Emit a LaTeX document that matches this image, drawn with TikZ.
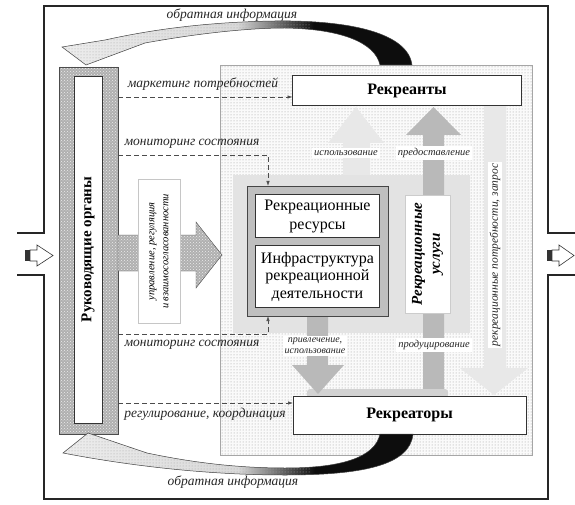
\documentclass[tikz,border=0pt]{standalone}
\usepackage{fontspec}
\setmainfont{Liberation Serif}
\usetikzlibrary{patterns,arrows.meta}

% fade used by the two curved feedback arrows: light on the left, black on the right
\pgfdeclarehorizontalshading{feedfade}{100bp}{rgb(0bp)=(0.93,0.93,0.93); rgb(25bp)=(0.93,0.93,0.93); rgb(50bp)=(0.85,0.85,0.85); rgb(61bp)=(0.05,0.05,0.05); rgb(100bp)=(0.05,0.05,0.05)}

\newcommand\topfeedpath{(412,65) .. controls (408,33) and (350,20) .. (275,21) .. controls (205,22) and (150,30) .. (105,40) -- (62,47) -- (86,65) -- (145,43) .. controls (200,33) and (250,28) .. (285,28) .. controls (340,29) and (375,42) .. (380,65) -- cycle}
\newcommand\botfeedpath{(380,434) .. controls (375,458) and (340,468) .. (285,468) .. controls (235,468) and (190,462) .. (147,453) -- (88,433) -- (63,453) .. controls (120,464) and (200,475) .. (285,475) .. controls (360,475) and (410,466) .. (413,434) -- cycle}

\begin{document}
\begin{tikzpicture}[x=1pt,y=-1pt,
  every node/.style={inner sep=0pt,outer sep=0pt},
  frameline/.style={line width=1.2pt,black!85},
  zonebox/.style={draw=gray!70,line width=0.6pt,preaction={fill=gray!4},pattern=dots,pattern color=gray!80},
  meshfill/.style={preaction={fill=gray!62},pattern=crosshatch dots,pattern color=white!85!gray},
  whitebox/.style={draw=black!80,line width=0.8pt,fill=white},
  agentbox/.style={whitebox,line width=1pt,font=\bfseries\fontsize{16}{18}\selectfont},
  flowlabel/.style={font=\itshape\fontsize{13.5}{15}\selectfont,text=black!85},
  taglabel/.style={fill=white,inner sep=2pt,font=\itshape\fontsize{10.5}{12}\selectfont,text=black!85},
  dasharrow/.style={line width=0.7pt,dash pattern=on 5pt off 3pt,black!70,-{Latex[length=5pt,width=3.5pt]}},
  darkflow/.style={fill=gray!55},
  lightflow/.style={fill=gray!18},
  sidearrow/.style={draw=black!80,line width=0.6pt,fill=white}]
\useasboundingbox (0,0) rectangle (575,505);
\fill[white] (0,0) rectangle (575,505);

% outer frame with the openings on both sides
\draw[frameline] (17,233) -- (44,233) -- (44,6) -- (548,6) -- (548,233) -- (575,233);
\draw[frameline] (17,275) -- (44,275) -- (44,499) -- (548,499) -- (548,275) -- (575,275);

% input and output arrows
\fill[black!80] (25,250) rectangle (30,261);
\draw[sidearrow] (30,250) -- (37,250) -- (37,245) -- (53,255.5) -- (37,266) -- (37,261) -- (30,261) -- cycle;
\fill[black!80] (547,250) rectangle (552,261);
\draw[sidearrow] (552,250) -- (559,250) -- (559,245) -- (574,255.5) -- (559,266) -- (559,261) -- (552,261) -- cycle;

% recreational system zone
\node[zonebox,minimum width=312,minimum height=390] (zone) at (376.5,260) {};
\node[fill=gray!22,minimum width=237,minimum height=158] (core) at (351.5,254) {};

% flows inside the zone
\fill[lightflow] (343,175) -- (343,143) -- (328,143) -- (356,107) -- (384,143) -- (370,143) -- (370,175) -- cycle;
\fill[lightflow] (484,106) -- (484,368) -- (460,368) -- (494,395) -- (528,368) -- (506,368) -- (506,106) -- cycle;
\fill[darkflow] (423,395) -- (423,135) -- (406,135) -- (433.5,107) -- (461,135) -- (444,135) -- (444,395) -- cycle;
\fill[gray!35,rounded corners=3pt] (307,389) rectangle (448,398);
\fill[darkflow] (307,316) -- (307,365) -- (292,365) -- (318,394) -- (344,365) -- (328,365) -- (328,316) -- cycle;

% resources and infrastructure
\node[fill=gray!50,draw=gray!55!black,line width=0.5pt,minimum width=141,minimum height=130] (frame) at (317.5,251) {};
\node[whitebox,minimum width=124,minimum height=43,align=center,font=\fontsize{16}{19}\selectfont] (res) at (317.5,216) {Рекреационные\\ресурсы};
\node[whitebox,minimum width=124,minimum height=62,align=center,font=\fontsize{16}{17.5}\selectfont] (infra) at (317.5,276.5) {Инфраструктура\\рекреационной\\деятельности};

% services
\node[fill=white,draw=gray!40,line width=0.6pt,rotate=90,minimum width=118,minimum height=45,align=center,font=\bfseries\itshape\fontsize{15}{18}\selectfont] (usl) at (427.5,254) {Рекреационные\\услуги};

% flow tags
\node[taglabel] (tisp) at (346,153) {использование};
\node[taglabel] (tpred) at (434,153) {предоставление};
\node[taglabel,align=center,font=\itshape\fontsize{10}{11}\selectfont] (tprivl) at (315,346) {привлечение,\\использование};
\node[taglabel] (tprod) at (434,345) {продуцирование};
\node[taglabel,rotate=90,font=\itshape\fontsize{11.5}{13}\selectfont] (tneed) at (495,255) {рекреационные потребности, запрос};

% participants
\node[agentbox,minimum width=229,minimum height=30] (rkt) at (407,91) {Рекреанты};
\node[agentbox,minimum width=233,minimum height=38] (rktr) at (409.5,415) {Рекреаторы};

% governing bodies
\node[meshfill,draw=gray!60!black,line width=0.4pt,minimum width=59,minimum height=367] (bar) at (88.5,250.5) {};
\node[whitebox,rotate=90,minimum width=347,minimum height=28,font=\bfseries\fontsize{15}{17}\selectfont] (gov) at (88,249.5) {Руководящие органы};

% management arrow
\path[meshfill,draw=gray!60!black,line width=0.4pt] (118,235) -- (196,235) -- (196,222) -- (222,255) -- (196,288) -- (196,271) -- (118,271) -- cycle;
\node[fill=white,draw=gray!45,line width=1pt,rotate=90,minimum width=143,minimum height=42,align=center,font=\itshape\fontsize{10.5}{14}\selectfont] (mgmt) at (159,251.5) {управление, регуляция\\и взаимосогласованности};

% dashed information flows
\coordinate (mA) at (0,97);
\draw[dasharrow] (bar.east |- mA) -- (rkt.west |- mA);
\node[flowlabel] (lA) at (203,84) {маркетинг потребностей};
\coordinate (mB) at (268,155);
\draw[dasharrow] (bar.east |- mB) -- (mB) -- (mB |- frame.north);
\node[flowlabel] (lB) at (192,144) {мониторинг состояния};
\coordinate (mC) at (268,334);
\draw[dasharrow] (bar.east |- mC) -- (mC) -- (mC |- frame.south);
\node[flowlabel] (lC) at (192,345) {мониторинг состояния};
\coordinate (mD) at (0,403);
\draw[dasharrow] (bar.east |- mD) -- (rktr.west |- mD);
\node[flowlabel] (lD) at (205,414) {регулирование, координация};

% feedback arrows
\shade[shading=feedfade] \topfeedpath;
\begin{scope}
\clip (0,0) rectangle (310,505);
\fill[pattern=dots,pattern color=gray!70] \topfeedpath;
\end{scope}
\draw[black!75,line width=0.5pt] \topfeedpath;
\shade[shading=feedfade] \botfeedpath;
\begin{scope}
\clip (0,0) rectangle (310,505);
\fill[pattern=dots,pattern color=gray!70] \botfeedpath;
\end{scope}
\draw[black!75,line width=0.5pt] \botfeedpath;
\node[flowlabel] (fbTop) at (232,15) {обратная информация};
\node[flowlabel] (fbBot) at (233,482) {обратная информация};
\end{tikzpicture}
\end{document}
